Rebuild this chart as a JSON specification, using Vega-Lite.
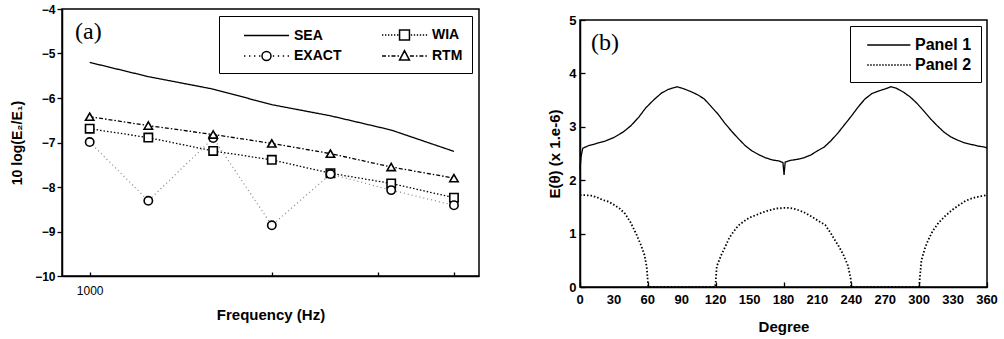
{
  "$schema": "https://vega.github.io/schema/vega-lite/v6.json",
  "padding": {"left": 9, "top": 2, "right": 2, "bottom": 2},
  "background": "white",
  "config": {
    "view": {"stroke": "black", "strokeWidth": 1.5},
    "axis": {
      "grid": false,
      "domainColor": "black", "domainWidth": 1.5,
      "tickColor": "black", "tickWidth": 1.3,
      "labelFont": "Liberation Sans", "labelFontWeight": "bold", "labelColor": "black",
      "titleFont": "Liberation Sans", "titleFontWeight": "bold", "titleColor": "black"
    }
  },
  "datasets": {
    "a": [
      {"freq": 1000, "level": -5.2, "method": "SEA"},
      {"freq": 1250, "level": -5.52, "method": "SEA"},
      {"freq": 1600, "level": -5.8, "method": "SEA"},
      {"freq": 2000, "level": -6.15, "method": "SEA"},
      {"freq": 2500, "level": -6.4, "method": "SEA"},
      {"freq": 3150, "level": -6.72, "method": "SEA"},
      {"freq": 4000, "level": -7.2, "method": "SEA"},
      {"freq": 1000, "level": -6.69, "method": "WIA"},
      {"freq": 1250, "level": -6.89, "method": "WIA"},
      {"freq": 1600, "level": -7.19, "method": "WIA"},
      {"freq": 2000, "level": -7.39, "method": "WIA"},
      {"freq": 2500, "level": -7.69, "method": "WIA"},
      {"freq": 3150, "level": -7.92, "method": "WIA"},
      {"freq": 4000, "level": -8.24, "method": "WIA"},
      {"freq": 1000, "level": -6.99, "method": "EXACT"},
      {"freq": 1250, "level": -8.31, "method": "EXACT"},
      {"freq": 1600, "level": -6.9, "method": "EXACT"},
      {"freq": 2000, "level": -8.86, "method": "EXACT"},
      {"freq": 2500, "level": -7.71, "method": "EXACT"},
      {"freq": 3150, "level": -8.07, "method": "EXACT"},
      {"freq": 4000, "level": -8.41, "method": "EXACT"},
      {"freq": 1000, "level": -6.42, "method": "RTM"},
      {"freq": 1250, "level": -6.62, "method": "RTM"},
      {"freq": 1600, "level": -6.82, "method": "RTM"},
      {"freq": 2000, "level": -7.02, "method": "RTM"},
      {"freq": 2500, "level": -7.25, "method": "RTM"},
      {"freq": 3150, "level": -7.55, "method": "RTM"},
      {"freq": 4000, "level": -7.8, "method": "RTM"}
    ],
    "b": [
      {"degree": 0, "energy": 2.2, "panel": "Panel 1"},
      {"degree": 1, "energy": 2.45, "panel": "Panel 1"},
      {"degree": 2.5, "energy": 2.6, "panel": "Panel 1"},
      {"degree": 8, "energy": 2.65, "panel": "Panel 1"},
      {"degree": 15, "energy": 2.69, "panel": "Panel 1"},
      {"degree": 22, "energy": 2.73, "panel": "Panel 1"},
      {"degree": 30, "energy": 2.8, "panel": "Panel 1"},
      {"degree": 38, "energy": 2.9, "panel": "Panel 1"},
      {"degree": 45, "energy": 3.02, "panel": "Panel 1"},
      {"degree": 52, "energy": 3.18, "panel": "Panel 1"},
      {"degree": 58, "energy": 3.35, "panel": "Panel 1"},
      {"degree": 65, "energy": 3.5, "panel": "Panel 1"},
      {"degree": 72, "energy": 3.63, "panel": "Panel 1"},
      {"degree": 78, "energy": 3.7, "panel": "Panel 1"},
      {"degree": 86, "energy": 3.75, "panel": "Panel 1"},
      {"degree": 92, "energy": 3.71, "panel": "Panel 1"},
      {"degree": 98, "energy": 3.66, "panel": "Panel 1"},
      {"degree": 104, "energy": 3.6, "panel": "Panel 1"},
      {"degree": 110, "energy": 3.52, "panel": "Panel 1"},
      {"degree": 116, "energy": 3.38, "panel": "Panel 1"},
      {"degree": 122, "energy": 3.24, "panel": "Panel 1"},
      {"degree": 128, "energy": 3.07, "panel": "Panel 1"},
      {"degree": 134, "energy": 2.92, "panel": "Panel 1"},
      {"degree": 140, "energy": 2.78, "panel": "Panel 1"},
      {"degree": 146, "energy": 2.65, "panel": "Panel 1"},
      {"degree": 152, "energy": 2.55, "panel": "Panel 1"},
      {"degree": 158, "energy": 2.48, "panel": "Panel 1"},
      {"degree": 164, "energy": 2.42, "panel": "Panel 1"},
      {"degree": 170, "energy": 2.38, "panel": "Panel 1"},
      {"degree": 176, "energy": 2.36, "panel": "Panel 1"},
      {"degree": 179.5, "energy": 2.33, "panel": "Panel 1"},
      {"degree": 180.5, "energy": 2.1, "panel": "Panel 1"},
      {"degree": 181.5, "energy": 2.34, "panel": "Panel 1"},
      {"degree": 186, "energy": 2.37, "panel": "Panel 1"},
      {"degree": 192, "energy": 2.39, "panel": "Panel 1"},
      {"degree": 198, "energy": 2.42, "panel": "Panel 1"},
      {"degree": 204, "energy": 2.47, "panel": "Panel 1"},
      {"degree": 210, "energy": 2.55, "panel": "Panel 1"},
      {"degree": 216, "energy": 2.62, "panel": "Panel 1"},
      {"degree": 222, "energy": 2.74, "panel": "Panel 1"},
      {"degree": 228, "energy": 2.88, "panel": "Panel 1"},
      {"degree": 234, "energy": 3.04, "panel": "Panel 1"},
      {"degree": 240, "energy": 3.2, "panel": "Panel 1"},
      {"degree": 246, "energy": 3.37, "panel": "Panel 1"},
      {"degree": 252, "energy": 3.52, "panel": "Panel 1"},
      {"degree": 258, "energy": 3.62, "panel": "Panel 1"},
      {"degree": 264, "energy": 3.67, "panel": "Panel 1"},
      {"degree": 270, "energy": 3.71, "panel": "Panel 1"},
      {"degree": 275, "energy": 3.75, "panel": "Panel 1"},
      {"degree": 280, "energy": 3.72, "panel": "Panel 1"},
      {"degree": 286, "energy": 3.65, "panel": "Panel 1"},
      {"degree": 292, "energy": 3.56, "panel": "Panel 1"},
      {"degree": 298, "energy": 3.44, "panel": "Panel 1"},
      {"degree": 304, "energy": 3.3, "panel": "Panel 1"},
      {"degree": 310, "energy": 3.15, "panel": "Panel 1"},
      {"degree": 316, "energy": 3.02, "panel": "Panel 1"},
      {"degree": 322, "energy": 2.9, "panel": "Panel 1"},
      {"degree": 328, "energy": 2.81, "panel": "Panel 1"},
      {"degree": 334, "energy": 2.75, "panel": "Panel 1"},
      {"degree": 340, "energy": 2.7, "panel": "Panel 1"},
      {"degree": 346, "energy": 2.67, "panel": "Panel 1"},
      {"degree": 352, "energy": 2.64, "panel": "Panel 1"},
      {"degree": 358, "energy": 2.62, "panel": "Panel 1"},
      {"degree": 360, "energy": 2.6, "panel": "Panel 1"},
      {"degree": 0, "energy": 1.72, "panel": "Panel 2"},
      {"degree": 5, "energy": 1.72, "panel": "Panel 2"},
      {"degree": 10, "energy": 1.71, "panel": "Panel 2"},
      {"degree": 15, "energy": 1.68, "panel": "Panel 2"},
      {"degree": 20, "energy": 1.63, "panel": "Panel 2"},
      {"degree": 25, "energy": 1.6, "panel": "Panel 2"},
      {"degree": 30, "energy": 1.54, "panel": "Panel 2"},
      {"degree": 35, "energy": 1.47, "panel": "Panel 2"},
      {"degree": 40, "energy": 1.37, "panel": "Panel 2"},
      {"degree": 45, "energy": 1.2, "panel": "Panel 2"},
      {"degree": 50, "energy": 0.98, "panel": "Panel 2"},
      {"degree": 54, "energy": 0.78, "panel": "Panel 2"},
      {"degree": 57, "energy": 0.6, "panel": "Panel 2"},
      {"degree": 59, "energy": 0.38, "panel": "Panel 2"},
      {"degree": 60, "energy": 0.1, "panel": "Panel 2"},
      {"degree": 60.5, "energy": 0, "panel": "Panel 2"},
      {"degree": 119.5, "energy": 0, "panel": "Panel 2"},
      {"degree": 120, "energy": 0.1, "panel": "Panel 2"},
      {"degree": 121, "energy": 0.39, "panel": "Panel 2"},
      {"degree": 125, "energy": 0.6, "panel": "Panel 2"},
      {"degree": 128.6, "energy": 0.76, "panel": "Panel 2"},
      {"degree": 132, "energy": 0.92, "panel": "Panel 2"},
      {"degree": 136, "energy": 1.04, "panel": "Panel 2"},
      {"degree": 140, "energy": 1.15, "panel": "Panel 2"},
      {"degree": 145, "energy": 1.23, "panel": "Panel 2"},
      {"degree": 150, "energy": 1.3, "panel": "Panel 2"},
      {"degree": 156, "energy": 1.35, "panel": "Panel 2"},
      {"degree": 162, "energy": 1.4, "panel": "Panel 2"},
      {"degree": 168, "energy": 1.44, "panel": "Panel 2"},
      {"degree": 174, "energy": 1.47, "panel": "Panel 2"},
      {"degree": 180, "energy": 1.48, "panel": "Panel 2"},
      {"degree": 186, "energy": 1.48, "panel": "Panel 2"},
      {"degree": 192, "energy": 1.45, "panel": "Panel 2"},
      {"degree": 198, "energy": 1.4, "panel": "Panel 2"},
      {"degree": 204, "energy": 1.33, "panel": "Panel 2"},
      {"degree": 210, "energy": 1.25, "panel": "Panel 2"},
      {"degree": 217, "energy": 1.16, "panel": "Panel 2"},
      {"degree": 222, "energy": 1.0, "panel": "Panel 2"},
      {"degree": 226, "energy": 0.86, "panel": "Panel 2"},
      {"degree": 229, "energy": 0.76, "panel": "Panel 2"},
      {"degree": 233, "energy": 0.6, "panel": "Panel 2"},
      {"degree": 237, "energy": 0.4, "panel": "Panel 2"},
      {"degree": 239.5, "energy": 0.15, "panel": "Panel 2"},
      {"degree": 240, "energy": 0, "panel": "Panel 2"},
      {"degree": 300, "energy": 0, "panel": "Panel 2"},
      {"degree": 300.5, "energy": 0.15, "panel": "Panel 2"},
      {"degree": 302, "energy": 0.5, "panel": "Panel 2"},
      {"degree": 305, "energy": 0.72, "panel": "Panel 2"},
      {"degree": 308, "energy": 0.88, "panel": "Panel 2"},
      {"degree": 312, "energy": 1.05, "panel": "Panel 2"},
      {"degree": 317, "energy": 1.2, "panel": "Panel 2"},
      {"degree": 323, "energy": 1.33, "panel": "Panel 2"},
      {"degree": 329, "energy": 1.44, "panel": "Panel 2"},
      {"degree": 335, "energy": 1.53, "panel": "Panel 2"},
      {"degree": 340, "energy": 1.6, "panel": "Panel 2"},
      {"degree": 345, "energy": 1.65, "panel": "Panel 2"},
      {"degree": 350, "energy": 1.68, "panel": "Panel 2"},
      {"degree": 355, "energy": 1.7, "panel": "Panel 2"},
      {"degree": 360, "energy": 1.72, "panel": "Panel 2"}
    ]
  },
  "spacing": 67,
  "hconcat": [
    {
      "width": 417,
      "height": 267,
      "data": {"name": "a"},
      "layer": [
        {
          "mark": {"type": "line", "strokeWidth": 1.3},
          "encoding": {
            "x": {
              "field": "freq", "type": "quantitative",
              "scale": {"type": "log", "domain": [900, 4400], "nice": false},
              "axis": {
                "values": [1000, 2000, 3000, 4000],
                "labelExpr": "datum.value == 1000 ? '1000' : ''",
                "tickSize": -4, "labelPadding": 13,
                "labelFontWeight": "normal", "labelFontSize": 12,
                "title": "Frequency (Hz)", "titleFontSize": 15, "titlePadding": 11
              }
            },
            "y": {
              "field": "level", "type": "quantitative",
              "scale": {"domain": [-10, -4], "nice": false},
              "axis": {
                "values": [-10, -9, -8, -7, -6, -5, -4],
                "tickSize": 5, "labelPadding": 2, "labelFontSize": 12,
                "title": "10 log(E₂/E₁)", "titleFontSize": 14, "titlePadding": 10
              }
            },
            "strokeDash": {
              "field": "method", "type": "nominal",
              "scale": {"domain": ["SEA", "WIA", "EXACT", "RTM"], "range": [[1, 0], [1.5, 2], [1, 3], [4, 2, 1.5, 2]]},
              "legend": null
            },
            "color": {
              "field": "method", "type": "nominal",
              "scale": {"domain": ["SEA", "WIA", "EXACT", "RTM"], "range": ["black", "black", "#8a8a8a", "black"]},
              "legend": null
            }
          }
        },
        {
          "transform": [{"filter": "datum.method != 'SEA'"}],
          "mark": {"type": "point", "filled": true, "fill": "white", "stroke": "black", "strokeWidth": 1.6, "size": 70, "opacity": 1},
          "encoding": {
            "x": {"field": "freq", "type": "quantitative"},
            "y": {"field": "level", "type": "quantitative"},
            "shape": {
              "field": "method", "type": "nominal",
              "scale": {"domain": ["WIA", "EXACT", "RTM"], "range": ["square", "circle", "triangle-up"]},
              "legend": null
            }
          }
        },
        {
          "transform": [{"filter": "datum.method == 'legend only'"}],
          "mark": {"type": "point", "filled": false, "stroke": "black", "strokeWidth": 1.5, "opacity": 1},
          "encoding": {
            "shape": {
              "field": "method", "type": "nominal",
              "scale": {
                "domain": ["SEA", "WIA", "EXACT", "RTM"],
                "range": [
                  "M0.667,0H5.667",
                  "M0.667,0h0.15M1,0h0.15M1.333,0h0.15M1.667,0h0.15M2,0h0.15M2.333,0h0.15M3.867,0h0.15M4.2,0h0.15M4.533,0h0.15M4.867,0h0.15M5.2,0h0.15M5.533,0h0.15M2.617,-0.55H3.717V0.55H2.617Z",
                  "M0.667,0h0.15M1.222,0h0.15M1.778,0h0.15M2.333,0h0.15M3.867,0h0.15M4.422,0h0.15M4.978,0h0.15M5.517,0h0.15M3.667,0A0.5,0.5,0,1,1,2.667,0A0.5,0.5,0,1,1,3.667,0Z",
                  "M0.667,0H1.111M1.333,0H1.5M1.722,0H2.167M2.389,0H2.556M3.767,0H4.211M4.433,0H4.6M4.822,0H5.267M5.489,0H5.656M3.167,-0.6L3.717,0.45H2.617Z"
                ]
              },
              "legend": {
                "title": null, "orient": "top-right", "offset": 7, "columns": 2, "direction": "horizontal",
                "strokeColor": "black", "fillColor": "white", "padding": 9,
                "symbolSize": 324, "symbolStrokeWidth": 1.5, "symbolStrokeColor": "black",
                "labelFont": "Liberation Sans", "labelFontSize": 14, "labelFontWeight": "bold", "labelColor": "black",
                "labelOffset": 46, "rowPadding": 3, "columnPadding": 24,
                "encode": {
                  "legend": {"update": {"strokeWidth": {"value": 1.5}}}
                }
              }
            }
          }
        },
        {
          "data": {"values": [{}]},
          "mark": {"type": "text", "font": "Liberation Serif", "fontSize": 24, "align": "center", "baseline": "middle", "color": "black"},
          "encoding": {
            "x": {"datum": 995, "type": "quantitative"},
            "y": {"datum": -4.52, "type": "quantitative"},
            "text": {"value": "(a)"}
          }
        }
      ],
      "resolve": {"scale": {"shape": "independent"}}
    },
    {
      "spacing": 0,
      "vconcat": [
        {
          "width": 407,
          "height": 4,
          "data": {"values": []},
          "mark": "point",
          "view": {"stroke": null}
        },
        {
          "width": 407,
          "height": 267,
          "data": {"name": "b"},
          "layer": [
            {
              "mark": {"type": "line", "color": "black"},
              "encoding": {
                "x": {
                  "field": "degree", "type": "quantitative",
                  "scale": {"domain": [0, 360], "nice": false},
                  "axis": {
                    "values": [0, 30, 60, 90, 120, 150, 180, 210, 240, 270, 300, 330, 360],
                    "labels": false,
                    "tickSize": -5,
                    "title": "Degree", "titleFontSize": 15, "titlePadding": 32
                  }
                },
                "y": {
                  "field": "energy", "type": "quantitative",
                  "scale": {"domain": [0, 5], "nice": false},
                  "axis": {
                    "values": [0, 0.5, 1, 1.5, 2, 2.5, 3, 3.5, 4, 4.5, 5],
                    "labelExpr": "datum.value % 1 == 0 ? datum.label : ''",
                    "tickSize": {"condition": {"test": "datum.value % 1 == 0", "value": -5}, "value": -3},
                    "labelPadding": 9, "labelFontSize": 13,
                    "title": "E(θ) (x 1.e-6)", "titleFontSize": 15, "titlePadding": 6
                  }
                },
                "strokeDash": {
                  "field": "panel", "type": "nominal",
                  "scale": {"domain": ["Panel 1", "Panel 2"], "range": [[1, 0], [1.6, 2.4]]},
                  "legend": null
                },
                "strokeWidth": {
                  "field": "panel", "type": "nominal",
                  "scale": {"domain": ["Panel 1", "Panel 2"], "range": [1.3, 1.8]},
                  "legend": null
                }
              }
            },
            {
              "data": {"values": [{"tick": 0}, {"tick": 30}, {"tick": 60}, {"tick": 90}, {"tick": 120}, {"tick": 150}, {"tick": 180}, {"tick": 210}, {"tick": 240}, {"tick": 270}, {"tick": 300}, {"tick": 330}, {"tick": 360}]},
              "mark": {"type": "text", "font": "Liberation Sans", "fontWeight": "bold", "fontSize": 13, "align": "center", "baseline": "top", "dy": 7, "color": "black"},
              "encoding": {
                "x": {"field": "tick", "type": "quantitative"},
                "y": {"datum": 0, "type": "quantitative"},
                "text": {"field": "tick", "type": "quantitative"}
              }
            },
            {
              "transform": [{"filter": "datum.panel == 'legend only'"}],
              "mark": {"type": "point", "filled": false, "stroke": "black", "strokeWidth": 1.6, "opacity": 1},
              "encoding": {
                "shape": {
                  "field": "panel", "type": "nominal",
                  "scale": {
                    "domain": ["Panel 1", "Panel 2"],
                    "range": [
                      "M-0.2,0H4.6",
                      "M-0.2,0h0.17M0.133,0h0.17M0.467,0h0.17M0.8,0h0.17M1.133,0h0.17M1.467,0h0.17M1.8,0h0.17M2.133,0h0.17M2.467,0h0.17M2.8,0h0.17M3.133,0h0.17M3.467,0h0.17M3.8,0h0.17M4.133,0h0.17M4.467,0h0.17"
                    ]
                  },
                  "legend": {
                    "title": null, "orient": "top-right", "offset": 6,
                    "strokeColor": "black", "fillColor": "white", "padding": 9,
                    "symbolSize": 324, "symbolStrokeWidth": 1.6, "symbolStrokeColor": "black",
                    "labelFont": "Liberation Sans", "labelFontSize": 16, "labelFontWeight": "bold", "labelColor": "black",
                    "labelOffset": 36, "rowPadding": 2,
                    "encode": {"legend": {"update": {"strokeWidth": {"value": 1.5}}}}
                  }
                }
              }
            },
            {
              "data": {"values": [{}]},
              "mark": {"type": "text", "font": "Liberation Serif", "fontSize": 24, "align": "center", "baseline": "middle", "color": "black"},
              "encoding": {
                "x": {"datum": 22, "type": "quantitative"},
                "y": {"datum": 4.57, "type": "quantitative"},
                "text": {"value": "(b)"}
              }
            }
          ],
          "resolve": {"scale": {"shape": "independent"}}
        }
      ]
    }
  ]
}
